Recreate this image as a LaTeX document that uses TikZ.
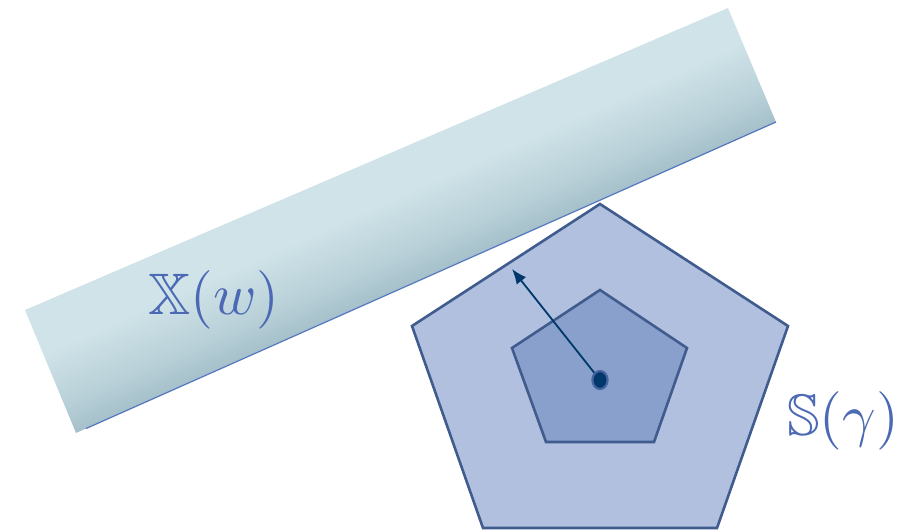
\documentclass[tikz,border=0pt]{standalone}
\usepackage{amssymb}
\usetikzlibrary{arrows.meta,shapes.geometric,calc}
\definecolor{bandL}{RGB}{207,227,232}
\definecolor{bandM}{RGB}{186,209,217}
\definecolor{bandD}{RGB}{163,191,201}
\definecolor{bandEdge}{RGB}{85,120,192}
\definecolor{outerFill}{RGB}{176,192,222}
\definecolor{innerFill}{RGB}{136,160,203}
\definecolor{polyEdge}{RGB}{64,92,142}
\definecolor{navy}{RGB}{0,56,107}
\definecolor{dotRing}{RGB}{70,100,160}
\definecolor{labelBlue}{RGB}{75,105,180}
\pgfdeclareverticalshading{bandshade}{100bp}{color(0bp)=(bandD); color(25bp)=(bandD); color(38bp)=(bandM); color(56bp)=(bandL); color(75bp)=(bandL); color(100bp)=(bandL)}
\tikzset{
  polyline/.style={draw=polyEdge, line width=2.6pt, line join=miter},
  outerpoly/.style={polyline, fill=outerFill},
  innerpoly/.style={polyline, fill=innerFill},
  mathlabel/.style={text=labelBlue, scale=5.85, inner sep=0pt, anchor=base},
  centredot/.style={ellipse, minimum width=15pt, minimum height=18pt, inner sep=0pt, fill=navy, draw=dotRing, line width=2pt},
  radius arrow/.style={draw=navy, line width=1.8pt, -{Latex[length=15pt,width=12pt]}},
}
\begin{document}
\begin{tikzpicture}[x=1pt,y=1pt]
\useasboundingbox (0,0) rectangle (918,530);
% band corners
\coordinate (bBL) at (76,97);
\coordinate (bBR) at (776,408);
\coordinate (bTR) at (728,522);
\coordinate (bTL) at (25,220);
\begin{scope}
  \clip (bBL) -- (bBR) -- (bTR) -- (bTL) -- cycle;
  \begin{scope}[transform canvas={cm={700,311,-50,122,(76,97)}}]
    \shade[shading=bandshade] (-0.05,-0.02) rectangle (1.05,1.06);
  \end{scope}
\end{scope}
\coordinate (bEdgeStart) at ($(bBL)!0.014!(bBR)$);
\draw[bandEdge, line width=1.2pt] (bEdgeStart) -- (bBR);
% outer pentagon
\coordinate (o1) at (600,326);
\coordinate (o2) at (788,204);
\coordinate (o3) at (717,2);
\coordinate (o4) at (483,2);
\coordinate (o5) at (412,204);
\path[outerpoly] (o1) -- (o2) -- (o3) -- (o4) -- (o5) -- cycle;
% inner pentagon
\coordinate (i1) at (600,240);
\coordinate (i2) at (687,182);
\coordinate (i3) at (654,88);
\coordinate (i4) at (546,88);
\coordinate (i5) at (512,182);
\path[innerpoly] (i1) -- (i2) -- (i3) -- (i4) -- (i5) -- cycle;
% arrow
\coordinate (tip) at (512,261);
\node[centredot] (dot) at (600,150) {};
\draw[radius arrow] (dot.center) -- (tip);
\node[centredot] at (dot) {};
% labels
\node[mathlabel] (xw) at (214,215) {$\mathbb{X}(w)$};
\node[mathlabel] (sg) at (843,94) {$\mathbb{S}(\gamma)$};
\end{tikzpicture}
\end{document}
